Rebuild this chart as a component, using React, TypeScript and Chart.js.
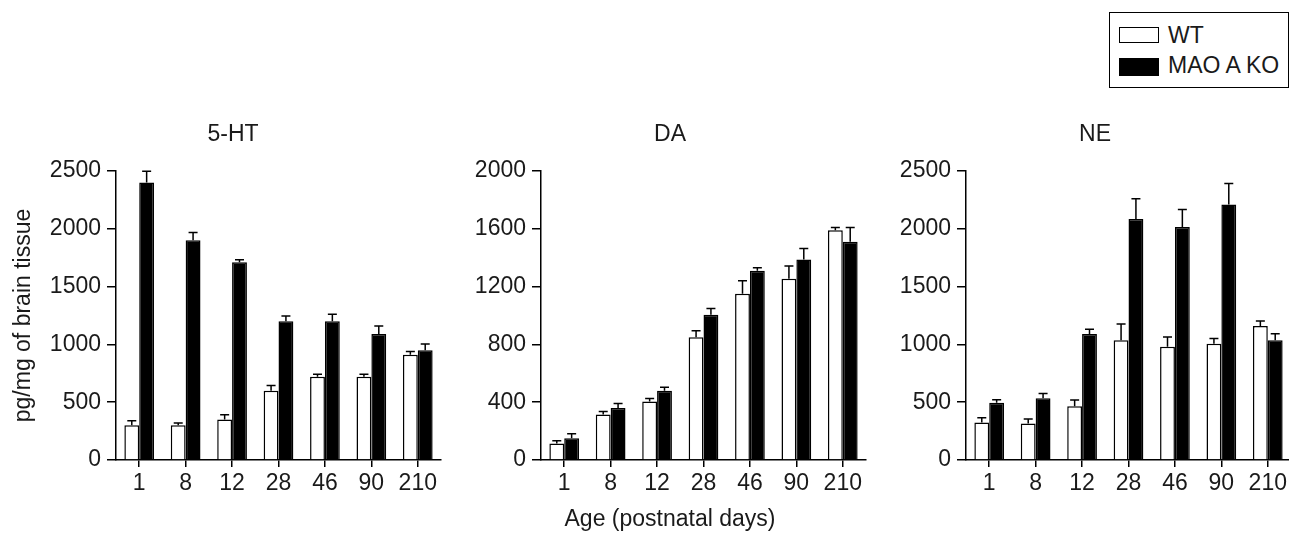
import React, { useEffect, useRef } from 'react';
import { Chart, registerables } from 'chart.js';

Chart.register(...registerables);

const FONT = '"Liberation Sans", Arial, Helvetica, sans-serif';
const TEXT = '#1a1a1a';
const FS = 23;

const ages = ['1', '8', '12', '28', '46', '90', '210'];
const seriesNames = ['WT', 'MAO A KO'];

const htWT = [300, 300, 350, 600, 720, 720, 910];
const htWTerr = [40, 20, 41, 44, 22, 22, 28];
const htKO = [2400, 1900, 1710, 1200, 1200, 1090, 950];
const htKOerr = [97, 68, 22, 46, 60, 69, 54];

const daWT = [115, 315, 405, 850, 1150, 1255, 1590];
const daWTerr = [18, 21, 21, 45, 90, 87, 19];
const daKO = [150, 360, 480, 1005, 1310, 1388, 1510];
const daKOerr = [32, 31, 24, 44, 20, 76, 99];

const neWT = [325, 315, 465, 1035, 980, 1005, 1160];
const neWTerr = [40, 39, 53, 142, 84, 45, 43];
const neKO = [495, 535, 1090, 2085, 2015, 2210, 1035];
const neKOerr = [26, 40, 41, 176, 151, 181, 58];

const errorBarPlugin = {
  id: 'errorBars',
  afterDatasetsDraw(chart: any) {
    const ctx = chart.ctx;
    const yScale = chart.scales.y;
    ctx.save();
    ctx.strokeStyle = '#000';
    ctx.lineWidth = 1.5;
    chart.data.datasets.forEach((ds: any, di: number) => {
      const meta = chart.getDatasetMeta(di);
      meta.data.forEach((bar: any, i: number) => {
        const v = ds.data[i];
        const e = ds.errors[i];
        const x = bar.x;
        const y0 = bar.y;
        const y1 = yScale.getPixelForValue(v + e);
        ctx.beginPath();
        ctx.moveTo(x, y0);
        ctx.lineTo(x, y1);
        ctx.moveTo(x - 4.5, y1);
        ctx.lineTo(x + 4.5, y1);
        ctx.stroke();
      });
    });
    ctx.restore();
  },
};

type PanelProps = {
  left: number;
  width: number;
  height: number;
  padLeft: number;
  yWidth: number;
  title: string;
  wt: number[];
  wtErr: number[];
  ko: number[];
  koErr: number[];
  max: number;
  step: number;
  yTitle?: string;
  xTitle?: string;
};

function Panel(p: PanelProps) {
  const ref = useRef<HTMLCanvasElement | null>(null);
  useEffect(() => {
    if (!ref.current) return;
    const font = { family: FONT, size: FS };
    const chart = new Chart(ref.current, {
      type: 'bar',
      data: {
        labels: ages,
        datasets: [
          {
            label: seriesNames[0],
            data: p.wt,
            errors: p.wtErr,
            backgroundColor: '#ffffff',
            borderColor: '#000000',
            borderWidth: 1.5,
            categoryPercentage: 0.64,
            barPercentage: 1,
          } as any,
          {
            label: seriesNames[1],
            data: p.ko,
            errors: p.koErr,
            backgroundColor: '#000000',
            borderColor: '#000000',
            borderWidth: 1.5,
            categoryPercentage: 0.64,
            barPercentage: 1,
          } as any,
        ],
      },
      options: {
        responsive: false,
        animation: false,
        devicePixelRatio: 1,
        layout: { padding: { left: p.padLeft, right: 2, top: 0, bottom: 0 } },
        plugins: {
          legend: { display: false },
          tooltip: { enabled: false },
          title: {
            display: true,
            text: p.title,
            color: TEXT,
            font: { ...font, weight: 'normal' },
            padding: { top: 21.2, bottom: 22.2 },
          },
          subtitle: {
            display: !!p.xTitle,
            text: p.xTitle || '',
            position: 'bottom',
            color: TEXT,
            font: { ...font, weight: 'normal' },
            padding: { top: 1.2, bottom: 0.2 },
          },
        },
        scales: {
          x: {
            offset: true,
            grid: {
              display: true,
              offset: false,
              drawOnChartArea: false,
              drawTicks: true,
              tickLength: 7,
              color: '#000',
              lineWidth: 1.5,
            },
            border: { display: true, color: '#000', width: 1.5 },
            ticks: { color: TEXT, font, padding: 3, maxRotation: 0, autoSkip: false },
            afterFit: (s: any) => {
              s.height = 45;
            },
          },
          y: {
            min: 0,
            max: p.max,
            grid: {
              display: true,
              drawOnChartArea: false,
              drawTicks: true,
              tickLength: 9,
              color: '#000',
              lineWidth: 1.5,
            },
            border: { display: true, color: '#000', width: 1.5 },
            ticks: {
              color: TEXT,
              font,
              padding: 6,
              stepSize: p.step,
              callback: (v: any) => String(v),
            },
            title: {
              display: !!p.yTitle,
              text: p.yTitle || '',
              color: TEXT,
              font,
              padding: { top: -14.8, bottom: 0 },
            },
            afterFit: (s: any) => {
              s.width = p.yWidth;
            },
          },
        },
      } as any,
      plugins: [errorBarPlugin],
    });
    return () => chart.destroy();
  }, []);
  return (
    <canvas
      ref={ref}
      width={p.width}
      height={p.height}
      style={{ position: 'absolute', left: p.left, top: 100, width: p.width, height: p.height }}
    />
  );
}

export default function App() {
  const legendText: React.CSSProperties = {
    position: 'absolute',
    left: 1168,
    fontFamily: FONT,
    fontSize: FS,
    color: TEXT,
    lineHeight: '26px',
    whiteSpace: 'nowrap',
  };
  return (
    <div
      style={{
        position: 'absolute',
        left: 0,
        top: 0,
        width: 1289,
        height: 533,
        overflow: 'hidden',
        background: '#fff',
      }}
    >
      <Panel
        left={0}
        width={443}
        height={405}
        padLeft={25}
        yWidth={91}
        title="5-HT"
        wt={htWT}
        wtErr={htWTerr}
        ko={htKO}
        koErr={htKOerr}
        max={2500}
        step={500}
        yTitle="pg/mg of brain tissue"
      />
      <Panel
        left={450}
        width={418}
        height={434}
        padLeft={24}
        yWidth={67}
        title="DA"
        wt={daWT}
        wtErr={daWTerr}
        ko={daKO}
        koErr={daKOerr}
        max={2000}
        step={400}
        xTitle="Age (postnatal days)"
      />
      <Panel
        left={880}
        width={413}
        height={405}
        padLeft={19}
        yWidth={67}
        title="NE"
        wt={neWT}
        wtErr={neWTerr}
        ko={neKO}
        koErr={neKOerr}
        max={2500}
        step={500}
      />
      <div
        style={{
          position: 'absolute',
          left: 1109,
          top: 12,
          width: 180,
          height: 76,
          boxSizing: 'border-box',
          border: '1.5px solid #000',
        }}
      />
      <div
        style={{
          position: 'absolute',
          left: 1119,
          top: 27,
          width: 40,
          height: 16,
          boxSizing: 'border-box',
          border: '1.5px solid #000',
          background: '#fff',
        }}
      />
      <div style={{ position: 'absolute', left: 1119, top: 58, width: 40, height: 18, background: '#000' }} />
      <div style={{ ...legendText, top: 22 }}>{seriesNames[0]}</div>
      <div style={{ ...legendText, top: 52 }}>{seriesNames[1]}</div>
    </div>
  );
}
